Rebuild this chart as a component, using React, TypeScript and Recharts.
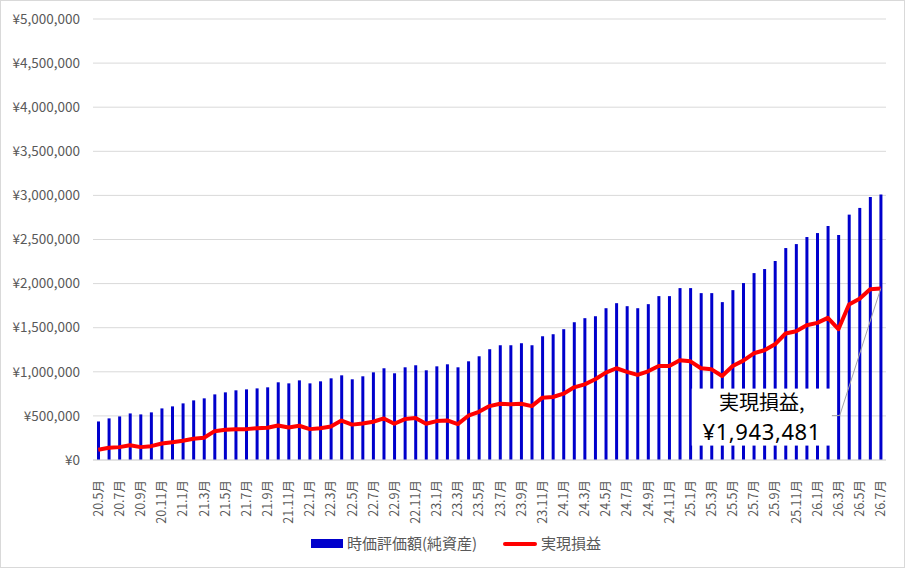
import React from 'react';
import { ComposedChart, Bar, Line, XAxis, YAxis, CartesianGrid, Legend } from 'recharts';

// 2020.5 - 2026.7, one entry per month
const months = [
  '20.5月', '20.6月', '20.7月', '20.8月', '20.9月', '20.10月', '20.11月', '20.12月',
  '21.1月', '21.2月', '21.3月', '21.4月', '21.5月', '21.6月', '21.7月', '21.8月', '21.9月', '21.10月', '21.11月', '21.12月',
  '22.1月', '22.2月', '22.3月', '22.4月', '22.5月', '22.6月', '22.7月', '22.8月', '22.9月', '22.10月', '22.11月', '22.12月',
  '23.1月', '23.2月', '23.3月', '23.4月', '23.5月', '23.6月', '23.7月', '23.8月', '23.9月', '23.10月', '23.11月', '23.12月',
  '24.1月', '24.2月', '24.3月', '24.4月', '24.5月', '24.6月', '24.7月', '24.8月', '24.9月', '24.10月', '24.11月', '24.12月',
  '25.1月', '25.2月', '25.3月', '25.4月', '25.5月', '25.6月', '25.7月', '25.8月', '25.9月', '25.10月', '25.11月', '25.12月',
  '26.1月', '26.2月', '26.3月', '26.4月', '26.5月', '26.6月', '26.7月',
];

// 時価評価額(純資産)
const netAssets = [
  437000, 472000, 494000, 528000, 517000, 540000, 585000, 608000,
  642000, 676000, 699000, 744000, 767000, 790000, 801000, 812000, 824000, 881000, 869000, 903000,
  869000, 892000, 926000, 960000, 915000, 949000, 994000, 1040000, 983000, 1051000, 1074000, 1017000,
  1062000, 1085000, 1051000, 1119000, 1176000, 1256000, 1301000, 1301000, 1324000, 1301000, 1403000, 1426000,
  1483000, 1562000, 1608000, 1630000, 1721000, 1778000, 1744000, 1721000, 1767000, 1858000, 1858000, 1949000,
  1949000, 1892000, 1892000, 1790000, 1926000, 2006000, 2119000, 2165000, 2256000, 2403000, 2448000, 2528000,
  2573000, 2653000, 2551000, 2782000, 2858000, 2983000, 3009000,
];

// 実現損益
const realized = [
  116000, 139000, 146000, 168000, 146000, 157000, 187000, 202000,
  218000, 241000, 252000, 327000, 343000, 350000, 350000, 361000, 365000, 392000, 369000, 388000,
  350000, 361000, 380000, 447000, 401000, 414000, 434000, 471000, 411000, 464000, 475000, 411000,
  441000, 449000, 407000, 502000, 547000, 611000, 638000, 631000, 638000, 611000, 707000, 714000,
  752000, 824000, 858000, 915000, 991000, 1040000, 1000000, 965000, 1006000, 1066000, 1066000, 1131000,
  1119000, 1040000, 1028000, 952000, 1066000, 1127000, 1210000, 1244000, 1312000, 1434000, 1460000, 1528000,
  1555000, 1612000, 1483000, 1763000, 1828000, 1937000, 1943481,
];

const yTicks = [0, 500000, 1000000, 1500000, 2000000, 2500000, 3000000, 3500000, 4000000, 4500000, 5000000];

const data = months.map((m, i) => ({ month: m, netAssets: netAssets[i], realized: realized[i] }));

const FONT = '"Noto Sans CJK JP", "Noto Sans", sans-serif';
const GRAY = '#595959';

const yen = (v: number) => '¥' + v.toLocaleString('en-US');

const MonthTick = (props: any) => {
  const { x, y, payload } = props;
  return (
    <g transform={`translate(${x},${y})`}>
      <text
        transform="rotate(-90)"
        x={-12}
        y={0}
        dy={4.5}
        textAnchor="end"
        fill={GRAY}
        fontSize={12.5}
        fontFamily={FONT}
      >
        {payload.value}
      </text>
    </g>
  );
};

const lastIndex = realized.length - 1;

// data label of the last point, pulled down-left with a leader line
const LastLabel = (props: any) => {
  const { cx, cy, index } = props;
  if (index !== lastIndex) return <g key={`d${index}`} />;
  return (
    <g key={`d${index}`}>
      <polyline
        points={`${cx},${cy} ${cx - 41},${cy + 127} ${cx - 49},${cy + 127}`}
        fill="none"
        stroke="#a6a6a6"
        strokeWidth={1}
      />
      <rect x={cx - 189} y={cy + 100} width={140} height={57} fill="#ffffff" />
      <text x={cx - 119} y={cy + 121} textAnchor="middle" fontSize={20} fontFamily={FONT} fill="#000">
        実現損益,
      </text>
      <text
        x={cx - 119}
        y={cy + 151}
        textAnchor="middle"
        fontSize={22}
        letterSpacing={0.6}
        fontFamily='"Noto Sans", sans-serif'
        fill="#000"
      >
        {yen(realized[lastIndex])}
      </text>
    </g>
  );
};

const LegendContent = () => (
  <div style={{ position: 'relative', width: 905, height: 24, fontFamily: FONT, fontSize: 15, color: GRAY }}>
    <div style={{ position: 'absolute', left: 311, top: 7, width: 32, height: 9, background: '#0000cc' }} />
    <span style={{ position: 'absolute', left: 347, top: 0, lineHeight: '22px' }}>時価評価額(純資産)</span>
    <div style={{ position: 'absolute', left: 503, top: 9.5, width: 34, height: 4, borderRadius: 2, background: '#ff0000' }} />
    <span style={{ position: 'absolute', left: 541, top: 0, lineHeight: '22px' }}>実現損益</span>
  </div>
);

export default function App() {
  return (
    <div style={{ position: 'absolute', left: 0, top: 0, width: 905, height: 568, background: '#fff' }}>
      <ComposedChart
        width={905}
        height={568}
        data={data}
        margin={{ top: 19, right: 19, bottom: 24, left: 0 }}
      >
        <CartesianGrid vertical={false} stroke="#d9d9d9" />
        <XAxis
          dataKey="month"
          interval={1}
          height={60}
          tick={<MonthTick />}
          tickLine={false}
          axisLine={{ stroke: '#d9d9d9' }}
        />
        <YAxis
          width={93}
          domain={[0, 5000000]}
          ticks={yTicks}
          tickFormatter={yen}
          tickSize={0}
          tickMargin={13}
          axisLine={false}
          tickLine={false}
          tick={{ fill: GRAY, fontSize: 13.5, fontFamily: FONT }}
        />
        <Bar dataKey="netAssets" name="時価評価額(純資産)" fill="#0000cc" barSize={3} isAnimationActive={false} />
        <Line
          type="linear"
          dataKey="realized"
          name="実現損益"
          stroke="#ff0000"
          strokeWidth={4}
          strokeLinejoin="round"
          dot={<LastLabel />}
          activeDot={false}
          isAnimationActive={false}
        />
        <Legend
          content={<LegendContent />}
          wrapperStyle={{ position: 'absolute', left: 0, top: 532, width: 905, height: 24 }}
        />
      </ComposedChart>
      <div
        style={{
          position: 'absolute',
          left: 0,
          top: 0,
          width: 905,
          height: 568,
          boxSizing: 'border-box',
          border: '1px solid #d9d9d9',
          pointerEvents: 'none',
        }}
      />
    </div>
  );
}
